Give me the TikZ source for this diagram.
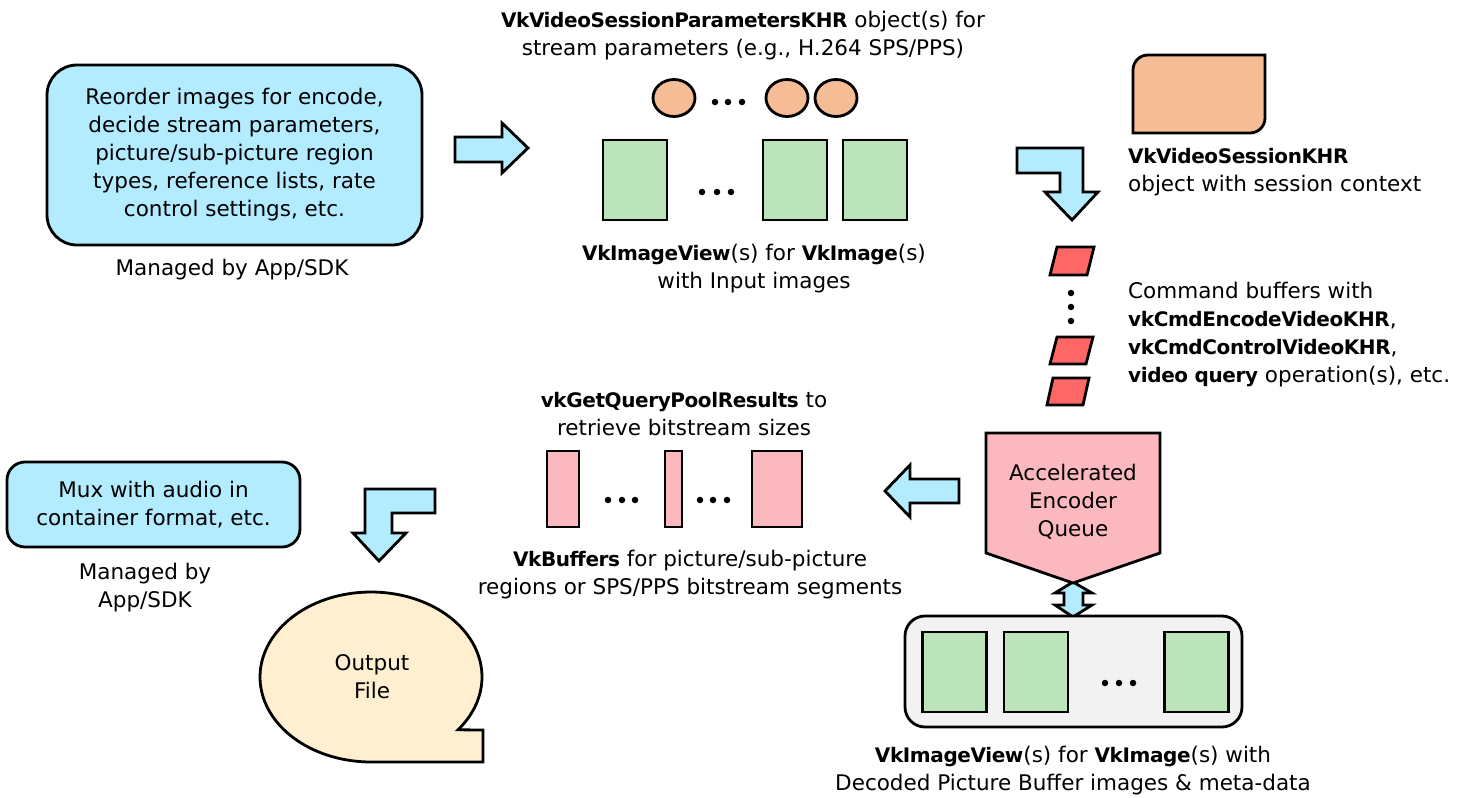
\documentclass[tikz,border=0pt]{standalone}
\usepackage{fontspec}
\setmainfont{DejaVu Sans}
\usetikzlibrary{shapes.geometric}
\definecolor{cblue}{RGB}{179,235,255}
\definecolor{corange}{RGB}{245,188,150}
\definecolor{cgreen}{RGB}{188,228,186}
\definecolor{cpink}{RGB}{251,184,190}
\definecolor{cred}{RGB}{255,102,102}
\definecolor{ccream}{RGB}{253,239,208}
\definecolor{cgray}{RGB}{242,242,242}
% bold API names, set a little tighter than the body text
\newcommand{\kbold}[1]{{\fontsize{20}{28}\selectfont\bfseries\addfontfeature{LetterSpace=-2}#1}}
\begin{document}
\begin{tikzpicture}[x=1pt,y=-1pt,
  every node/.style={font=\fontsize{21.5}{28}\selectfont},
  shape line/.style={draw=black, line width=2.8pt, line join=miter},
  lbl/.style={align=center, inner sep=0pt},
  lbll/.style={align=left, inner sep=0pt, anchor=west},
  imgbox/.style={shape line, fill=cgreen, rectangle, minimum width=64pt, minimum height=80pt, inner sep=0pt},
  bufbox/.style={shape line, fill=cpink, rectangle, minimum height=76pt, inner sep=0pt},
  param/.style={shape line, fill=corange, ellipse, minimum width=42pt, minimum height=37pt, inner sep=0pt},
  dotc/.style={circle, fill=black, inner sep=0pt, minimum size=6.5pt},
  barrow/.style={shape line, fill=cblue},
  cmdbuf/.style={shape line, fill=cred},
]
\useasboundingbox (0,0) rectangle (1460,798);

% ---------- application box ----------
\node[shape line, fill=cblue, rounded corners=30pt, minimum width=375pt, minimum height=180pt, align=center, inner sep=0pt]
  (app) at (234.5,155) {Reorder images for encode,\\decide stream parameters,\\picture/sub-picture region\\types, reference lists, rate\\control settings, etc.};
\node[lbl] (appnote) at (232,270) {Managed by App/SDK};

% arrow to the input images
\draw[barrow] (455,137) -- (502,137) -- (502,123) -- (528,148) -- (502,173) -- (502,162) -- (455,162) -- cycle;

% ---------- session parameters and input images ----------
\node[lbl] (parlbl) at (743,35.5) {\kbold{VkVideoSessionParametersKHR} object(s) for\\stream parameters (e.g., H.264 SPS/PPS)};
\node[param] (p1) at (674,98) {};
\node[param] (p2) at (787,98) {};
\node[param] (p3) at (836,98) {};
\node[dotc] (pd1) at (715,102) {};
\node[dotc] (pd2) at (728,102) {};
\node[dotc] (pd3) at (742,102) {};

\node[imgbox] (in1) at (635,180) {};
\node[imgbox] (in2) at (795,180) {};
\node[imgbox] (in3) at (875,180) {};
\node[dotc] (id1) at (702,192) {};
\node[dotc] (id2) at (717,192) {};
\node[dotc] (id3) at (731,192) {};
\node[lbl] (inlbl) at (754,268.5) {\kbold{VkImageView}(s) for \kbold{VkImage}(s)\\with Input images};

% ---------- video session ----------
\draw[shape line, fill=corange] (1133,133) -- (1133,70) .. controls (1133,61.7) and (1139.7,55) .. (1148,55) -- (1265,55)
  -- (1265,118) .. controls (1265,126.3) and (1258.3,133) .. (1250,133) -- cycle;
\coordinate (session) at (1199,94);
\node[lbll] (seslbl) at (1128,172) {\kbold{VkVideoSessionKHR}\\object with session context};

% bent arrow down to the command buffers
\draw[barrow] (1017,148) -- (1083,148) -- (1083,192) -- (1098,192) -- (1072,220) -- (1045,192)
  -- (1060,192) -- (1060,173) -- (1017,173) -- cycle;

% ---------- command buffers ----------
\draw[cmdbuf] (1057,247) -- (1094,247) -- (1087,275) -- (1050,275) -- cycle;
\node[dotc] (cd1) at (1071,293) {};
\node[dotc] (cd2) at (1071,307) {};
\node[dotc] (cd3) at (1071,321) {};
\draw[cmdbuf] (1057,337) -- (1093,337) -- (1086,364) -- (1050,364) -- cycle;
\draw[cmdbuf] (1053,378) -- (1089,378) -- (1083,405) -- (1047,405) -- cycle;
\node[lbll] (cmdlbl) at (1128,335) {Command buffers with\\\kbold{vkCmdEncodeVideoKHR},\\\kbold{vkCmdControlVideoKHR},\\\kbold{video query} operation(s), etc.};

% ---------- encoder queue and DPB ----------
\draw[barrow] (1073,582) -- (1092,593) -- (1083,593) -- (1083,605) -- (1092,605) -- (1073,617)
  -- (1055,605) -- (1064,605) -- (1064,593) -- (1055,593) -- cycle;
\draw[shape line, fill=cpink] (986,433) -- (1160,433) -- (1160,553) -- (1073,583) -- (986,553) -- cycle;
\node[lbl] (queue) at (1073,501.5) {Accelerated\\Encoder\\Queue};

\node[shape line, fill=cgray, rounded corners=20pt, minimum width=337pt, minimum height=111pt, inner sep=0pt]
  (dpb) at (1073.5,671.5) {};
\node[imgbox] (r1) at (954.5,672) {};
\node[imgbox] (r2) at (1036,672) {};
\node[imgbox] (r3) at (1196.5,672) {};
\node[dotc] (rd1) at (1105,683) {};
\node[dotc] (rd2) at (1119,683) {};
\node[dotc] (rd3) at (1133,683) {};
\node[lbl] (dpblbl) at (1073,771) {\kbold{VkImageView}(s) for \kbold{VkImage}(s) with\\Decoded Picture Buffer images \& meta-data};

% arrow to the bitstream buffers
\draw[barrow] (885,491) -- (910,465) -- (910,479) -- (959,479) -- (959,503) -- (910,503) -- (910,517) -- cycle;

% ---------- bitstream buffers ----------
\node[lbl] (qrylbl) at (684,414) {\kbold{vkGetQueryPoolResults} to\\retrieve bitstream sizes};
\node[bufbox, minimum width=32pt] (b1) at (563,489) {};
\node[bufbox, minimum width=17pt] (b2) at (673.5,489) {};
\node[bufbox, minimum width=50pt] (b3) at (777,489) {};
\node[dotc] (bd1) at (608,500) {};
\node[dotc] (bd2) at (622,500) {};
\node[dotc] (bd3) at (635,500) {};
\node[dotc] (bd4) at (700,500) {};
\node[dotc] (bd5) at (713,500) {};
\node[dotc] (bd6) at (727,500) {};
\node[lbl] (buflbl) at (690,575) {\kbold{VkBuffers} for picture/sub-picture\\regions or SPS/PPS bitstream segments};

% ---------- muxing and output ----------
\node[shape line, fill=cblue, rounded corners=18pt, minimum width=293pt, minimum height=85pt, align=center, inner sep=0pt]
  (mux) at (153.5,504.5) {Mux with audio in\\container format, etc.};
\node[lbl] (muxnote) at (145,588) {Managed by\\App/SDK};

\draw[barrow] (365,489) -- (435,489) -- (435,513) -- (392,513) -- (392,533) -- (406,533) -- (379,561)
  -- (353,533) -- (365,533) -- cycle;

\draw[shape line, fill=ccream] plot[domain=38.4:-270, samples=120] ({371+111*cos(\x)},{677+85*sin(\x)})
  -- (483,762) -- (483,730) -- cycle;
\node[lbl] (outfile) at (372,676.5) {Output\\File};
\end{tikzpicture}
\end{document}
